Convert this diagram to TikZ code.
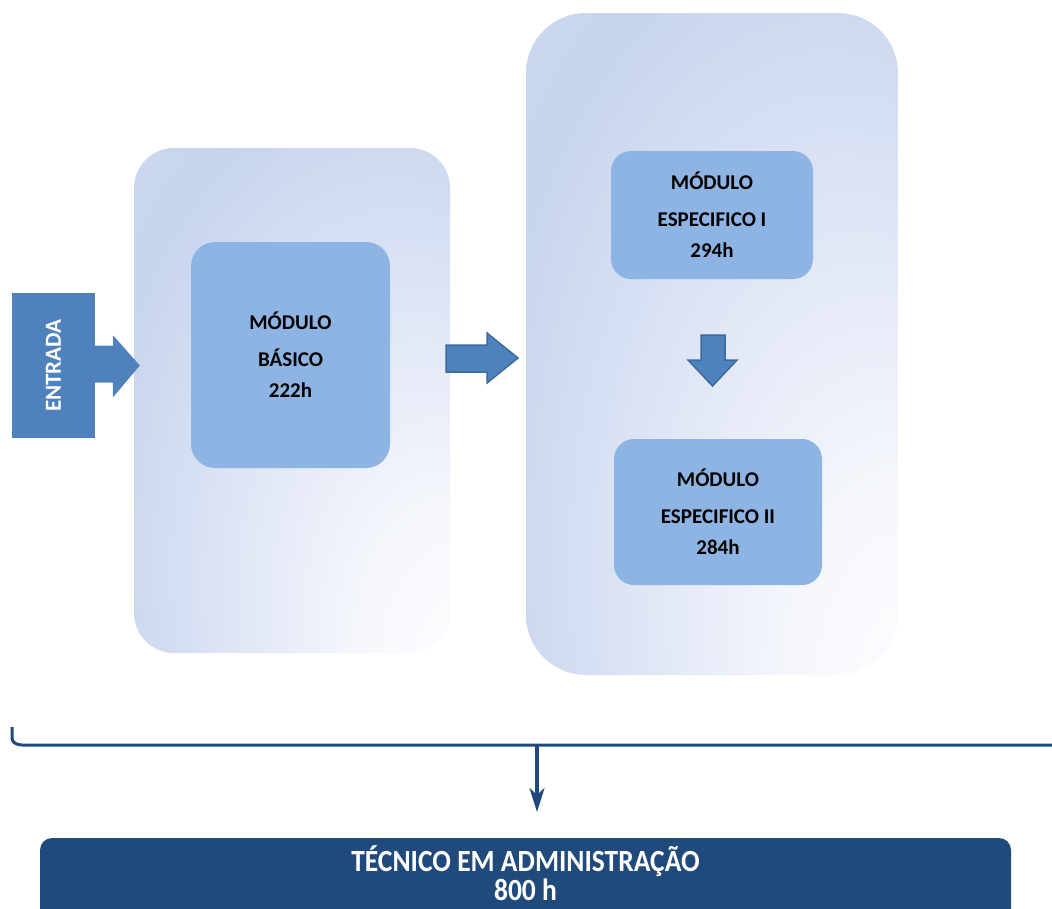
\documentclass[tikz,border=0pt]{standalone}
\usepackage{fontspec}
\setmainfont{Carlito}
\usetikzlibrary{arrows.meta,calc}
\definecolor{modfill}{HTML}{8EB4E3}
\definecolor{arrfill}{HTML}{4F81BD}
\definecolor{arrline}{HTML}{3C6A9E}
\definecolor{navy}{HTML}{1F497D}
\definecolor{boxnavy}{HTML}{214A7C}
\pgfdeclareradialshading{panelshade}{\pgfpoint{30bp}{-30bp}}{%
  color(0bp)=(white);
  color(14bp)=(rgb,255:red,245;green,247;blue,252);
  color(30bp)=(rgb,255:red,221;green,228;blue,244);
  color(45bp)=(rgb,255:red,198;green,212;blue,238);
  color(60bp)=(rgb,255:red,213;green,223;blue,242);
  color(80bp)=(rgb,255:red,228;green,234;blue,246)}
\tikzset{
  panel/.style={rectangle, draw=none, shading=panelshade},
  modbox/.style={rectangle, fill=modfill, draw=none, align=center, text=black,
    font=\fontsize{21}{31}\selectfont\bfseries},
  blockarrow/.style={fill=arrfill, draw=arrline, line width=1.5pt, line join=miter},
  bracket/.style={draw=navy, line width=3pt},
}
\begin{document}
\begin{tikzpicture}[x=1pt,y=-1pt]
\useasboundingbox (0,0) rectangle (1052,908);
% panels
\node[panel, minimum width=316pt, minimum height=505pt, rounded corners=40pt] (p1) at (292,400.5) {};
\node[panel, minimum width=372pt, minimum height=662pt, rounded corners=60pt] (p2) at (712,344) {};
% modules
\node[modbox, minimum width=199pt, minimum height=226pt, rounded corners=24pt] (basico) at (290.5,355) {MÓDULO\\[6pt]BÁSICO\\222h};
\node[modbox, minimum width=202pt, minimum height=128pt, rounded corners=20pt] (esp1) at (712,215) {MÓDULO\\[6pt]ESPECIFICO I\\294h};
\node[modbox, minimum width=208pt, minimum height=146pt, rounded corners=20pt] (esp2) at (718,512) {MÓDULO\\[6pt]ESPECIFICO II\\284h};
% entrada
\node[rectangle, fill=arrfill, minimum width=83pt, minimum height=145pt, inner sep=0pt] (entrada) at (53.5,365.5)
  {\rotatebox{90}{\textcolor{white}{\fontsize{23}{26}\selectfont\bfseries ENTRADA}}};
\fill[arrfill] ($(entrada.east)+(0,-20)$) -- ++(18,0) -- ++(0,-10) -- ($(p1.west |- entrada.east)+(6,0)$) -- ++(-27,32) -- ++(0,-15) -- ($(entrada.east)+(0,17)$) -- cycle;
% middle arrow
\draw[blockarrow] ($(p1.east |- 0,345)+(-4,0)$) -- (487,345) -- (487,333) -- (518,358) -- (487,383) -- (487,372) -- ($(p1.east |- 0,372)+(-4,0)$) -- cycle;
% down arrow
\draw[blockarrow] (701,335) -- (725,335) -- (725,360) -- (737,360) -- (712.5,386) -- (688,360) -- (701,360) -- cycle;
% bracket
\coordinate (bl) at (12,727);
\coordinate (br) at (1052,745);
\coordinate (bm) at (537,745);
\draw[bracket] (bl) -- (12,738) to[out=-90,in=180] (22,745) -- (br);
% bottom box
\node[rectangle, fill=boxnavy, minimum width=971pt, minimum height=92pt, rounded corners=12pt] (tecnico) at (525.5,884) {};
\node[text=white, align=center, font=\fontsize{27}{29}\selectfont\bfseries] (tecnicotxt) at (525.5,873)
  {\scalebox{1.02}[1.14]{TÉCNICO EM ADMINISTRAÇÃO}\\\scalebox{1.02}[1.14]{800 h}};
\draw[draw=navy, line width=3.5pt, -{Stealth[length=24pt,width=15pt,inset=7pt]}] (bm) -- (bm |- 0,812);
\end{tikzpicture}
\end{document}
